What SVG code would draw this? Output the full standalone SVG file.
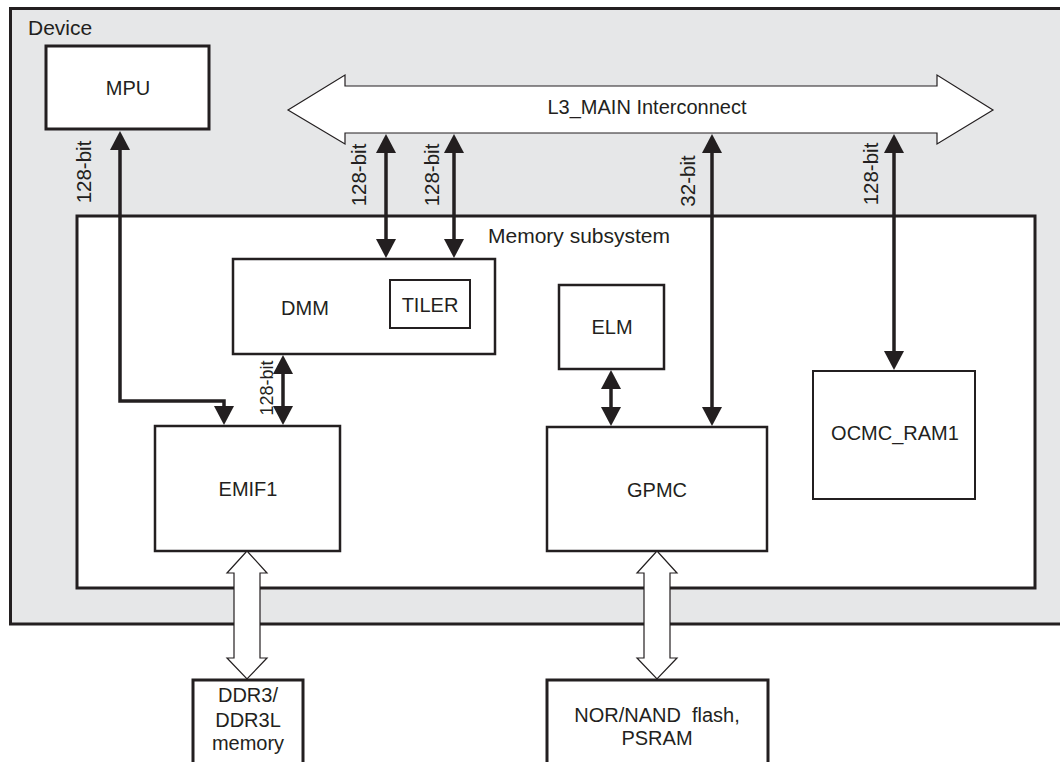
<svg xmlns="http://www.w3.org/2000/svg" width="1060" height="762" viewBox="0 0 1060 762">
<style>
text{font-family:"Liberation Sans",Arial,sans-serif;font-size:20px;fill:#231f20}
.c{text-anchor:middle}
.box{fill:#fff;stroke:#231f20;stroke-width:2.5}
.thin{fill:#fff;stroke:#231f20;stroke-width:2}
.thick{fill:#fff;stroke:#231f20;stroke-width:3}
.wire{fill:none;stroke:#231f20;stroke-width:3.5;marker-start:url(#ah);marker-end:url(#ah)}
.hollow{fill:#fff;stroke:#231f20;stroke-width:1.2;stroke-linejoin:miter}
.lbl{font-size:20.5px}
</style>
<defs>
<marker id="ah" markerUnits="userSpaceOnUse" viewBox="0 0 19 20" markerWidth="19" markerHeight="20" refX="1" refY="10" orient="auto-start-reverse">
<path d="M0,0 L19,10 L0,20 Z" fill="#231f20"/>
</marker>
</defs>
<g id="device">
<rect x="10.5" y="8.5" width="1060" height="615.5" fill="#e6e7e8" stroke="#231f20" stroke-width="3"/>
<text x="28" y="35" style="font-size:21px">Device</text>
</g>
<g id="memory-subsystem">
<rect x="77" y="216" width="958" height="372" class="thick"/>
<text x="488" y="243" style="font-size:21px">Memory subsystem</text>
</g>
<g id="mpu">
<rect x="46" y="46" width="163" height="83" class="thick"/>
<text x="128" y="95" class="c">MPU</text>
</g>
<g id="l3-main">
<polygon points="288,110 345,75 345,86 937,86 937,75 993,110 937,144 937,133 345,133 345,144" class="hollow"/>
<text x="647" y="114" class="c">L3_MAIN Interconnect</text>
</g>
<g id="dmm">
<rect x="233" y="259" width="262" height="95" class="box"/>
<text x="305" y="315" class="c">DMM</text>
</g>
<g id="tiler">
<rect x="390" y="280" width="80" height="48" class="thin"/>
<text x="430" y="312" class="c">TILER</text>
</g>
<g id="elm">
<rect x="559" y="285" width="105" height="84" class="box"/>
<text x="612" y="334" class="c">ELM</text>
</g>
<g id="ocmc-ram1">
<rect x="813" y="371" width="162" height="128" class="thin"/>
<text x="895" y="440" class="c">OCMC_RAM1</text>
</g>
<g id="emif1">
<rect x="155" y="426" width="185" height="125" class="box"/>
<text x="248" y="496" class="c">EMIF1</text>
</g>
<g id="gpmc">
<rect x="547" y="427" width="220" height="124" class="box"/>
<text x="657" y="497" class="c">GPMC</text>
</g>
<g id="ddr3">
<rect x="193" y="680" width="110" height="100" class="thick"/>
<text x="248" y="702" class="c">DDR3/</text>
<text x="248" y="727" class="c">DDR3L</text>
<text x="248" y="750" class="c">memory</text>
</g>
<g id="nor-nand">
<rect x="547" y="680" width="221" height="100" class="thick"/>
<text x="657" y="722" class="c" xml:space="preserve">NOR/NAND  flash,</text>
<text x="657" y="745" class="c">PSRAM</text>
</g>
<g id="connectors">
<path d="M120,149 V401 H224 V407" class="wire"/>
<path d="M386,152 V240" class="wire"/>
<path d="M454,152 V240" class="wire"/>
<path d="M283,373 V407" class="wire"/>
<path d="M611,388 V408" class="wire"/>
<path d="M712,152 V408" class="wire"/>
<path d="M894,152 V352" class="wire"/>
<polygon points="247,551 267,573 260,573 260,658 267,658 247,679 227,658 234,658 234,573 227,573" class="hollow"/>
<polygon points="657,551 677,573 670,573 670,658 677,658 657,679 637,658 644,658 644,573 637,573" class="hollow"/>
<text transform="translate(91,172) rotate(-90)" class="c lbl">128-bit</text>
<text transform="translate(366,175) rotate(-90)" class="c lbl">128-bit</text>
<text transform="translate(439,175) rotate(-90)" class="c lbl">128-bit</text>
<text transform="translate(695,181) rotate(-90)" class="c lbl">32-bit</text>
<text transform="translate(878,174) rotate(-90)" class="c lbl">128-bit</text>
<text transform="translate(273,388) rotate(-90)" class="c" style="font-size:18px">128-bit</text>
</g>
</svg>
